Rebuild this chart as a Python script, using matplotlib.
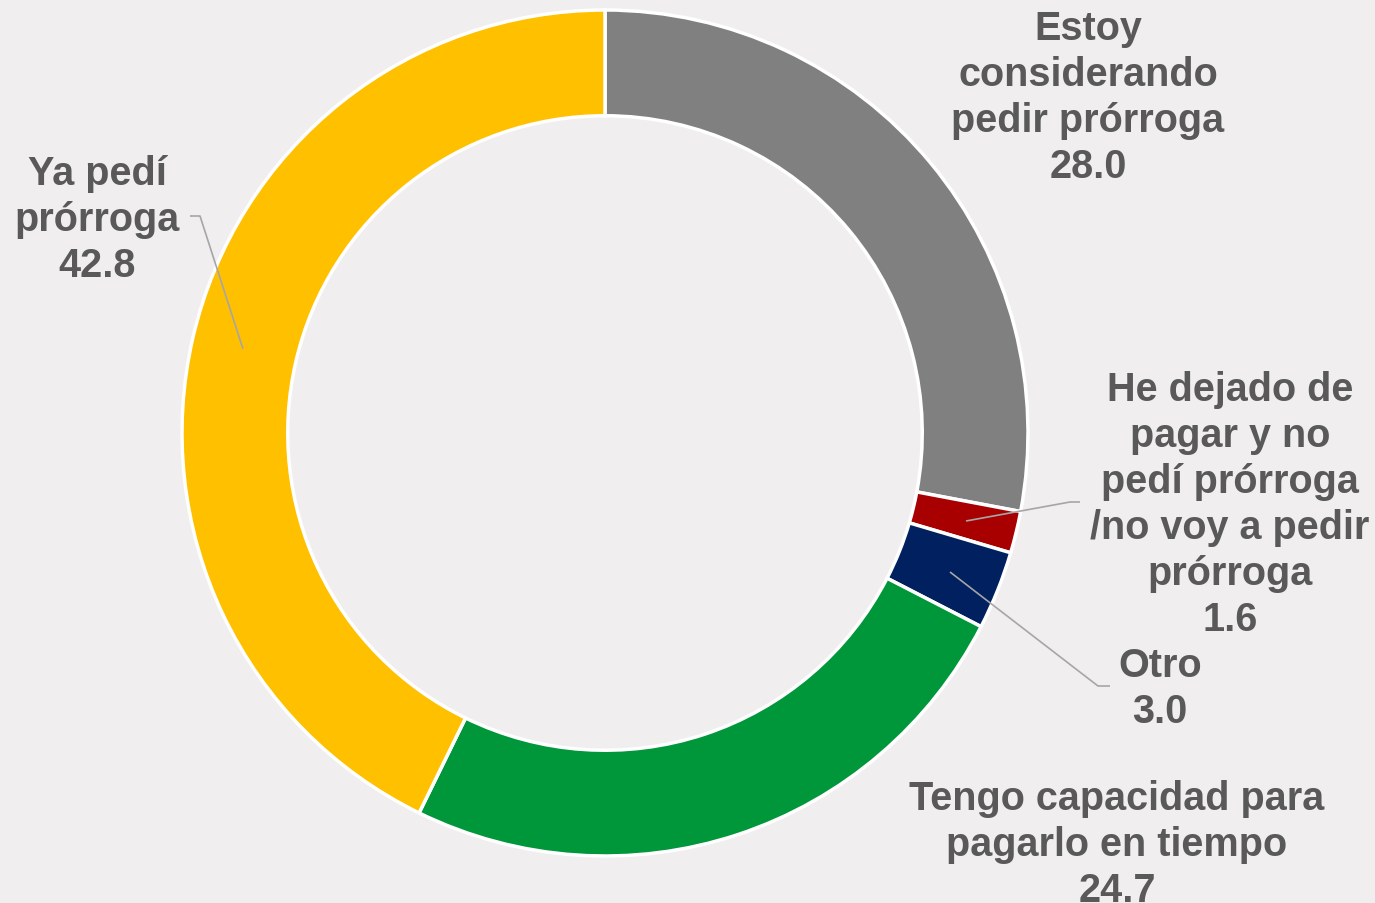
import matplotlib
matplotlib.use("Agg")
import matplotlib.pyplot as plt

# data
labels = [
    "Estoy\nconsiderando\npedir prórroga",
    "He dejado de\npagar y no\npedí prórroga\n/no voy a pedir\nprórroga",
    "Otro",
    "Tengo capacidad para\npagarlo en tiempo",
    "Ya pedí\nprórroga",
]
values = [28.0, 1.6, 3.0, 24.7, 42.8]
colors = ["#808080", "#A80000", "#002060", "#00963A", "#FFC000"]

W, H = 1375, 904
BG = "#F0EEEF"
TXT = "#595959"
LINE = "#A6A6A6"

plt.rcParams["font.family"] = ["Liberation Sans", "DejaVu Sans"]

fig = plt.figure(figsize=(W / 100, H / 100), dpi=100, facecolor=BG)
ax = fig.add_axes([0, 0, 1, 1])
ax.set_facecolor(BG)

cx, cy, r = 605, H - 434, 423
ax.pie(values, colors=colors, startangle=90, counterclock=False,
       center=(cx, cy), radius=r,
       wedgeprops=dict(width=r * 0.25, edgecolor="white", linewidth=2.5))
ax.set_xlim(0, W)
ax.set_ylim(0, H)
ax.set_aspect("equal")
ax.axis("off")

# label positions (pixel centers, y from top)
label_pos = [(1088, 98), (1230, 505), (1160, 689), (1117, 845), (97, 220)]
for lab, val, (x, y) in zip(labels, values, label_pos):
    ax.text(x, H - y, f"{lab}\n{val:.1f}", ha="center", va="center",
            fontsize=28.5, fontweight="bold", color=TXT, linespacing=1.27)

# leader lines
leaders = [
    [(966, 522), (1070, 503), (1080, 503)],
    [(950, 573), (1098, 687), (1110, 687)],
    [(243, 350), (200, 217), (190, 217)],
]
for pts in leaders:
    xs = [p[0] for p in pts]
    ys = [H - p[1] for p in pts]
    ax.plot(xs, ys, color=LINE, linewidth=1.2, solid_capstyle="butt")

fig.savefig("out.png", dpi=100, facecolor=BG)
